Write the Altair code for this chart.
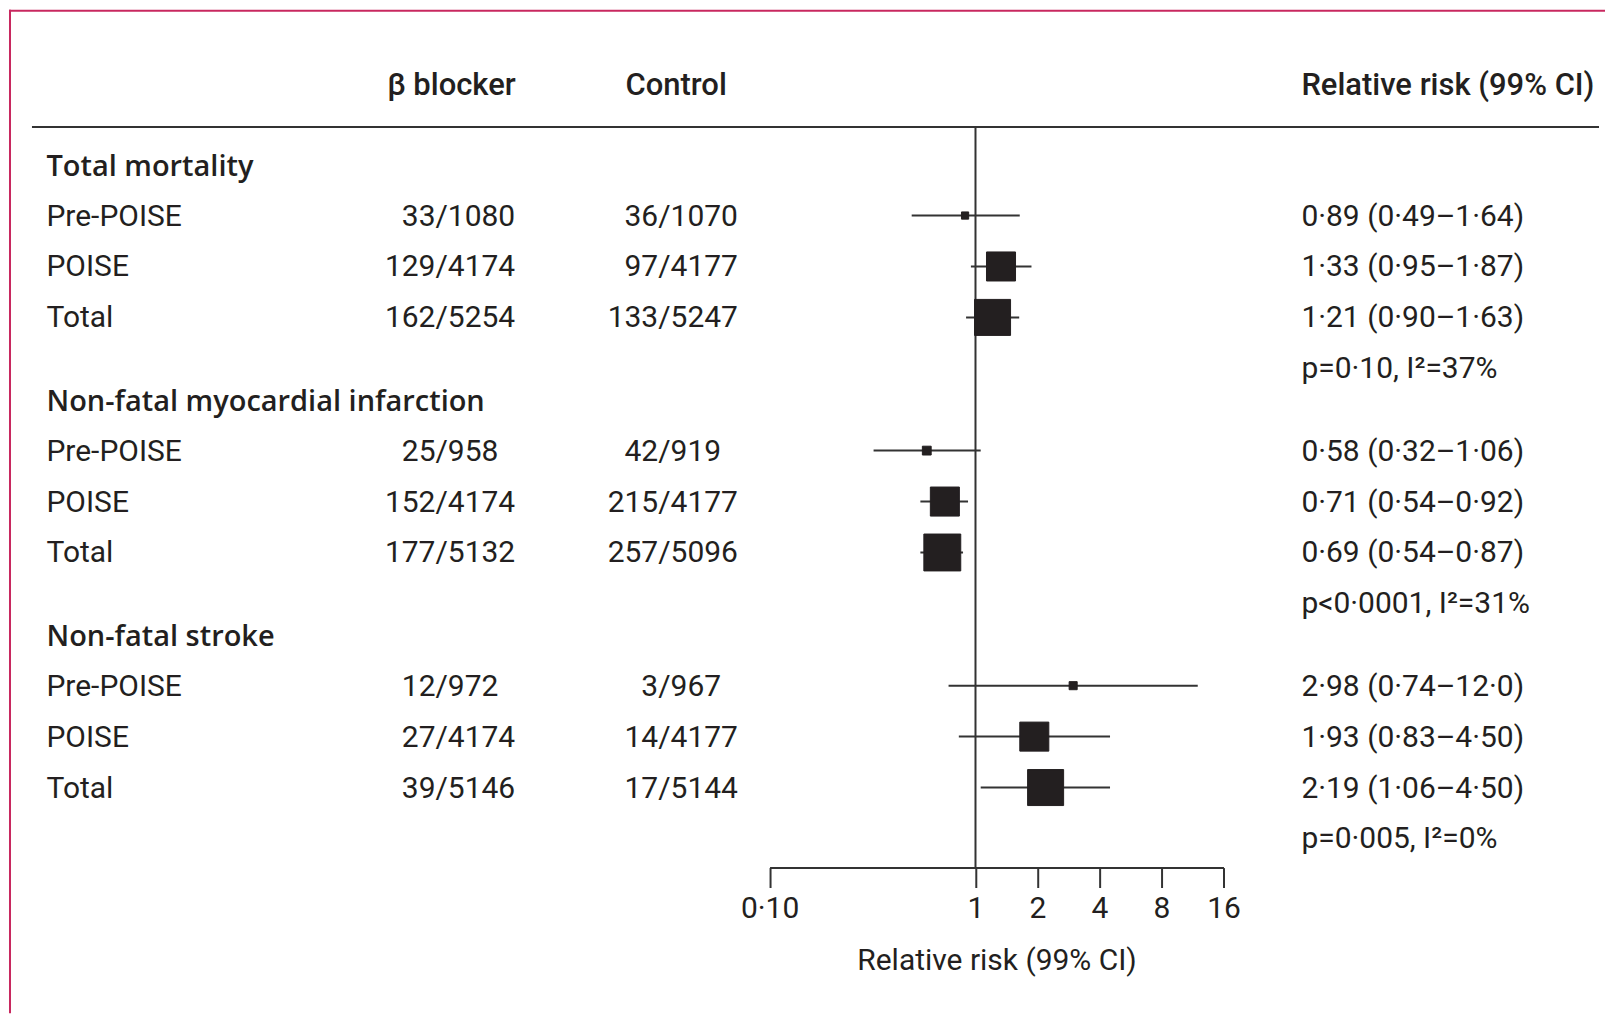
import altair as alt
import pandas as pd

# ---------------- data ----------------
groups = ["Total mortality", "Non-fatal myocardial infarction", "Non-fatal stroke"]
studies = ["Pre-POISE", "POISE", "Total"]
bb_events = [[33, 129, 162], [25, 152, 177], [12, 27, 39]]
bb_totals = [[1080, 4174, 5254], [958, 4174, 5132], [972, 4174, 5146]]
ctrl_events = [[36, 97, 133], [42, 215, 257], [3, 14, 17]]
ctrl_totals = [[1070, 4177, 5247], [919, 4177, 5096], [967, 4177, 5144]]
rr = [[0.89, 1.33, 1.21], [0.58, 0.71, 0.69], [2.98, 1.93, 2.19]]
rr_lo = [[0.49, 0.95, 0.90], [0.32, 0.54, 0.54], [0.74, 0.83, 1.06]]
rr_hi = [[1.64, 1.87, 1.63], [1.06, 0.92, 0.87], [12.0, 4.50, 4.50]]
rr_labels = [
    ["0·89 (0·49–1·64)", "1·33 (0·95–1·87)", "1·21 (0·90–1·63)"],
    ["0·58 (0·32–1·06)", "0·71 (0·54–0·92)", "0·69 (0·54–0·87)"],
    ["2·98 (0·74–12·0)", "1·93 (0·83–4·50)", "2·19 (1·06–4·50)"],
]
heterogeneity = ["p=0·10, I²=37%", "p<0·0001, I²=31%", "p=0·005, I²=0%"]
box_weight = [[4, 65, 100], [6, 65, 105], [5, 65, 100]]
headers = ["β blocker", "Control", "Relative risk (99% CI)"]
x_ticks = [0.1, 1, 2, 4, 8, 16]
x_title = "Relative risk (99% CI)"

# ---------------- layout (row units) ----------------
GROUP_STEP = 4.615
FIRST_STUDY = 0.97
HEADER_POS = -1.588
RULE_POS = -0.769
ROW_PX = 51.0
TOP_PX = 156.7
W, H = 1598, 859
Y_TOP = -TOP_PX / ROW_PX
Y_BOT = (H - TOP_PX) / ROW_PX

FONT = "Roboto"
TITLE_FONT = "Open Sans"
INK = "#231f20"
LINE = "#333333"
FS = 30

title_rows, study_rows, het_rows = [], [], []
for g, grp in enumerate(groups):
    base = g * GROUP_STEP
    title_rows.append({"text": grp, "pos": base})
    for k, st in enumerate(studies):
        study_rows.append({
            "label": st,
            "pos": base + FIRST_STUDY + k,
            "bb_num": str(bb_events[g][k]),
            "bb_den": "/" + str(bb_totals[g][k]),
            "c_num": str(ctrl_events[g][k]),
            "c_den": "/" + str(ctrl_totals[g][k]),
            "rr": rr[g][k], "lo": rr_lo[g][k], "hi": rr_hi[g][k],
            "rr_text": rr_labels[g][k],
            "w": box_weight[g][k],
        })
    het_rows.append({"text": heterogeneity[g], "pos": base + FIRST_STUDY + 3})

titles_df = pd.DataFrame(title_rows)
studies_df = pd.DataFrame(study_rows)
het_df = pd.DataFrame(het_rows)
header_df = pd.DataFrame({"text": headers, "pos": [HEADER_POS] * 3})
rule_df = pd.DataFrame({"pos": [RULE_POS]})
ref_df = pd.DataFrame({"x": [1.0], "y1": [RULE_POS], "y2": [Y_BOT]})
dummy = pd.DataFrame({"a": [0]})

yscale = alt.Scale(domain=[Y_TOP, Y_BOT], range=[0, H], nice=False, zero=False)
xscale = alt.Scale(type="log", domain=[0.1, 16], range=[761.5, 1216], nice=False)
xaxis = alt.Axis(
    values=x_ticks,
    labelExpr="datum.value < 0.5 ? '0·10' : format(datum.value, 'd')",
    domainColor=LINE, domainWidth=2, tickColor=LINE, tickWidth=2, tickSize=20,
    labelFont=FONT, labelFontSize=FS, labelColor=INK, labelPadding=6,
    labelFlush=False, labelOverlap=False, grid=False,
    titleFont=FONT, titleFontSize=FS, titleFontWeight="normal", titleColor=INK,
    titlePadding=22,
)

def X(field):
    return alt.X(field, scale=xscale, axis=xaxis, title=x_title)

def Y(field):
    return alt.Y(field, scale=yscale, axis=None)

def txt(df, field, x, align="left", weight="normal", font=FONT, size=FS):
    return alt.Chart(df).mark_text(
        font=font, fontSize=size, color=INK, align=align, baseline="alphabetic",
        dy=10, fontWeight=weight,
    ).encode(x=alt.value(x), y=Y("pos:Q"), text=f"{field}:N")

ref_line = alt.Chart(ref_df).mark_rule(color=LINE, strokeWidth=2).encode(
    x=X("x:Q"), y=Y("y1:Q"), y2="y2:Q")
head_rule = alt.Chart(rule_df).mark_rule(color=LINE, strokeWidth=2).encode(
    x=alt.value(23), x2=alt.value(1592), y=Y("pos:Q"))
ci = alt.Chart(studies_df).mark_rule(color=LINE, strokeWidth=2).encode(
    x=X("lo:Q"), x2="hi:Q", y=Y("pos:Q"))
boxes = alt.Chart(studies_df).mark_square(
    filled=True, color=INK, opacity=1, stroke=INK, strokeWidth=1).encode(
    x=X("rr:Q"), y=Y("pos:Q"),
    size=alt.Size("w:Q", scale=alt.Scale(domain=[0, 100], range=[0, 1300]), legend=None))

border_left = alt.Chart(dummy).mark_rule(color="#c8285f", strokeWidth=2).encode(
    x=alt.value(1), y=alt.value(0), y2=alt.value(1005))
border_top = alt.Chart(dummy).mark_rule(color="#c8285f", strokeWidth=2).encode(
    x=alt.value(0), x2=alt.value(W), y=alt.value(1))

layers = [
    border_left, border_top, head_rule, ref_line, ci, boxes,
    txt(header_df[header_df.text == headers[0]], "text", 443, "center", 500, size=31),
    txt(header_df[header_df.text == headers[1]], "text", 668, "center", 500, size=31),
    txt(header_df[header_df.text == headers[2]], "text", 1294, "left", 500, size=31),
    txt(titles_df, "text", 37.5, "left", 600, font=TITLE_FONT, size=29),
    txt(studies_df, "label", 37.5),
    txt(studies_df, "bb_num", 427, "right"),
    txt(studies_df, "bb_den", 427, "left"),
    txt(studies_df, "c_num", 650, "right"),
    txt(studies_df, "c_den", 650, "left"),
    txt(studies_df, "rr_text", 1294),
    txt(het_df, "text", 1294),
]

chart = alt.layer(*layers).properties(
    width=W, height=H, padding=0, background="white"
).configure_view(stroke=None)

chart.save("out.html", embed_options={"renderer": "svg", "actions": False})
